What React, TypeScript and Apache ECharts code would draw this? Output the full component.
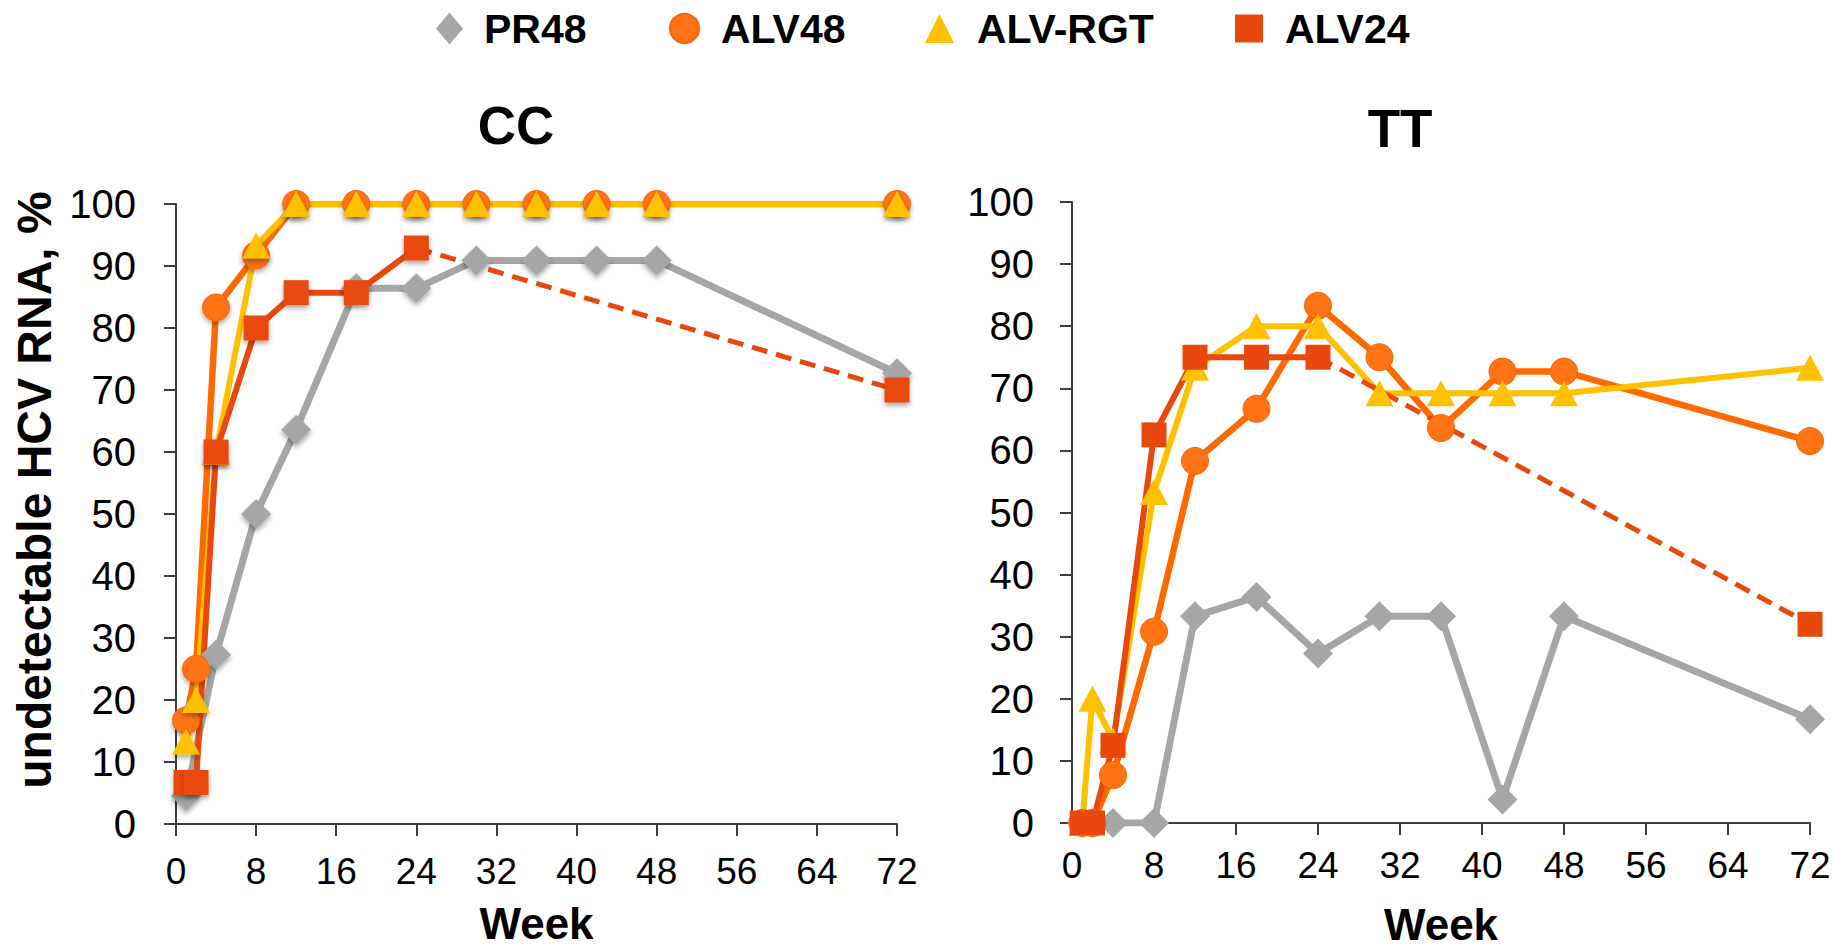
import { useEffect, useRef } from "react";
import * as echarts from "echarts";

const FONT = "Liberation Sans, Arial, Helvetica, sans-serif";

const seriesNames = ["PR48", "ALV48", "ALV-RGT", "ALV24"];
const panelTitles = ["CC", "TT"];
const xAxisTitle = "Week";
const yAxisTitle = "undetectable HCV RNA, %";

// CC panel
const ccPR48Weeks = [1, 4, 8, 12, 18, 24, 30, 36, 42, 48, 72];
const ccPR48 = [4.5, 27.3, 50, 63.6, 86.4, 86.4, 90.9, 90.9, 90.9, 90.9, 72.7];
const ccALV48Weeks = [1, 2, 4, 8, 12, 18, 24, 30, 36, 42, 48, 72];
const ccALV48 = [16.7, 25, 83.3, 91.7, 100, 100, 100, 100, 100, 100, 100, 100];
const ccRGTWeeks = [1, 2, 4, 8, 12, 18, 24, 30, 36, 42, 48, 72];
const ccRGT = [13.3, 20, 60, 93.3, 100, 100, 100, 100, 100, 100, 100, 100];
const ccALV24Weeks = [1, 2, 4, 8, 12, 18, 24];
const ccALV24 = [6.7, 6.7, 60, 80, 85.7, 85.7, 92.9];
const ccALV24FollowWeeks = [24, 72];
const ccALV24Follow = [92.9, 70];

// TT panel
const ttPR48Weeks = [1, 2, 4, 8, 12, 18, 24, 30, 36, 42, 48, 72];
const ttPR48 = [0, 0, 0, 0, 33.3, 36.4, 27.3, 33.3, 33.3, 3.8, 33.3, 16.7];
const ttALV48Weeks = [1, 2, 4, 8, 12, 18, 24, 30, 36, 42, 48, 72];
const ttALV48 = [0, 0, 7.7, 30.8, 58.3, 66.7, 83.3, 75, 63.6, 72.7, 72.7, 61.5];
const ttRGTWeeks = [1, 2, 4, 8, 12, 18, 24, 30, 36, 42, 48, 72];
const ttRGT = [0, 20, 13.3, 53.3, 73.3, 80, 80, 69.2, 69.2, 69.2, 69.2, 73.3];
const ttALV24Weeks = [1, 2, 4, 8, 12, 18, 24];
const ttALV24 = [0, 0, 12.5, 62.5, 75, 75, 75];
const ttALV24FollowWeeks = [24, 72];
const ttALV24Follow = [75, 32];

const COLORS = {
  PR48: "#A6A6A6",
  ALV48: "#FF7314",
  ALV48Line: "#FF6A00",
  RGT: "#FFC000",
  ALV24: "#E8480C",
};

const zip = (xs: number[], ys: number[]) => xs.map((x, i) => [x, ys[i]]);

function panelSeries(
  idx: number,
  d: {
    pr: [number[], number[]];
    alv48: [number[], number[]];
    rgt: [number[], number[]];
    alv24: [number[], number[]];
    follow: [number[], number[]];
  },
  shadow: boolean
) {
  const sh = shadow
    ? { shadowBlur: 5, shadowColor: "rgba(0,0,0,0.35)", shadowOffsetY: 3 }
    : {};
  const base = { type: "line", xAxisIndex: idx, yAxisIndex: idx, z: 2 };
  return [
    {
      ...base,
      name: seriesNames[0],
      data: zip(d.pr[0], d.pr[1]),
      symbol: "diamond",
      symbolSize: [30, 30],
      lineStyle: { color: COLORS.PR48, width: 7 },
      itemStyle: { color: COLORS.PR48, ...sh },
    },
    {
      ...base,
      name: seriesNames[1],
      data: zip(d.alv48[0], d.alv48[1]),
      symbol: "circle",
      symbolSize: 27,
      lineStyle: { color: COLORS.ALV48Line, width: 6.5 },
      itemStyle: { color: COLORS.ALV48, borderColor: "#F56400", borderWidth: 1, ...sh },
    },
    {
      ...base,
      name: seriesNames[2],
      data: zip(d.rgt[0], d.rgt[1]),
      symbol: "triangle",
      symbolSize: [28, 26],
      lineStyle: { color: COLORS.RGT, width: 6 },
      itemStyle: { color: COLORS.RGT, ...sh },
    },
    {
      ...base,
      name: seriesNames[3],
      data: zip(d.alv24[0], d.alv24[1]),
      symbol: "rect",
      symbolSize: 25,
      lineStyle: { color: COLORS.ALV24, width: 6 },
      itemStyle: { color: COLORS.ALV24, ...sh },
    },
    {
      ...base,
      name: seriesNames[3],
      data: zip(d.follow[0], d.follow[1]).map((p, i) =>
        i === 0 ? { value: p, symbol: "none" } : { value: p }
      ),
      symbol: "rect",
      symbolSize: 25,
      lineStyle: { color: COLORS.ALV24, width: 5, type: [16, 9] },
      itemStyle: { color: COLORS.ALV24, ...sh },
    },
  ];
}

function axisPair(idx: number, xLabelMargin: number, xNameGap: number, yLabelMargin: number) {
  const line = { show: true, lineStyle: { color: "#3c3c3c", width: 2 } };
  const tick = { show: true, length: 12, lineStyle: { color: "#3c3c3c", width: 2 } };
  return {
    x: {
      type: "value",
      gridIndex: idx,
      min: 0,
      max: 72,
      interval: 8,
      axisLine: line,
      axisTick: tick,
      splitLine: { show: false },
      axisLabel: { fontSize: 37, color: "#000", fontFamily: FONT, margin: xLabelMargin },
      name: xAxisTitle,
      nameLocation: "middle",
      nameGap: xNameGap,
      nameTextStyle: { fontSize: 44, fontWeight: "bold", color: "#000", fontFamily: FONT },
    },
    y: {
      type: "value",
      gridIndex: idx,
      min: 0,
      max: 100,
      interval: 10,
      axisLine: line,
      axisTick: tick,
      splitLine: { show: false },
      axisLabel: { fontSize: 40, color: "#000", fontFamily: FONT, margin: yLabelMargin },
    },
  };
}

const legendIcons = ["diamond", "circle", "triangle", "rect"];
const legendLefts = [431, 664, 920, 1230];
const legendPads = [16, 17, 18, 17];
const legendSizes: [number, number][] = [
  [27, 32],
  [29, 29],
  [29, 29],
  [28, 28],
];

export default function App() {
  const ref = useRef<HTMLDivElement>(null);
  useEffect(() => {
    if (!ref.current) return;
    const chart = echarts.init(ref.current, undefined, { renderer: "svg" });
    const a0 = axisPair(0, 29, 77, 40);
    const a1 = axisPair(1, 24, 79, 38);
    const option: any = {
      animation: false,
      backgroundColor: "#fff",
      textStyle: { fontFamily: FONT },
      title: [
        {
          text: panelTitles[0],
          left: 511,
          top: 94,
          textAlign: "center",
          textStyle: { fontSize: 53, fontWeight: "bold", color: "#000", fontFamily: FONT },
        },
        {
          text: panelTitles[1],
          left: 1395,
          top: 97,
          textAlign: "center",
          textStyle: { fontSize: 53, fontWeight: "bold", color: "#000", fontFamily: FONT },
        },
      ],
      legend: seriesNames.map((n, i) => ({
        data: [{ name: n, icon: legendIcons[i] }],
        left: legendLefts[i],
        top: 3,
        itemWidth: legendSizes[i][0],
        itemHeight: legendSizes[i][1],
        symbolKeepAspect: false,
        selectedMode: false,
        textStyle: {
          fontSize: 41,
          fontWeight: "bold",
          color: "#000",
          fontFamily: FONT,
          padding: [0, 0, 0, legendPads[i]],
        },
      })),
      grid: [
        { left: 176, top: 204, width: 721, height: 620 },
        { left: 1072, top: 202, width: 738, height: 633 },
      ],
      xAxis: [a0.x, a1.x],
      yAxis: [a0.y, a1.y],
      graphic: [
        {
          type: "text",
          x: 34,
          y: 490,
          rotation: Math.PI / 2,
          style: {
            text: yAxisTitle,
            fontSize: 48,
            fontWeight: "bold",
            fill: "#000",
            fontFamily: FONT,
            align: "center",
            verticalAlign: "middle",
          },
        },
      ],
      series: [
        ...panelSeries(
          0,
          {
            pr: [ccPR48Weeks, ccPR48],
            alv48: [ccALV48Weeks, ccALV48],
            rgt: [ccRGTWeeks, ccRGT],
            alv24: [ccALV24Weeks, ccALV24],
            follow: [ccALV24FollowWeeks, ccALV24Follow],
          },
          true
        ),
        ...panelSeries(
          1,
          {
            pr: [ttPR48Weeks, ttPR48],
            alv48: [ttALV48Weeks, ttALV48],
            rgt: [ttRGTWeeks, ttRGT],
            alv24: [ttALV24Weeks, ttALV24],
            follow: [ttALV24FollowWeeks, ttALV24Follow],
          },
          false
        ),
      ],
    };
    chart.setOption(option);
    return () => chart.dispose();
  }, []);
  return (
    <div
      ref={ref}
      style={{ position: "fixed", left: 0, top: 0, width: 1834, height: 951, background: "#fff" }}
    />
  );
}
